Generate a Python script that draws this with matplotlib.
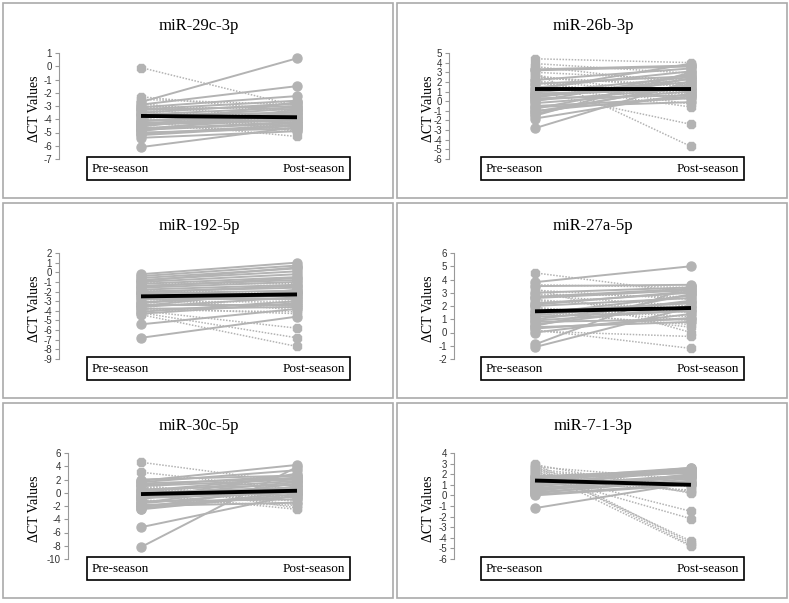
#!/usr/bin/env python3
"""Six paired pre/post-season dCT panels (grey per-subject lines, black mean)."""
import matplotlib.pyplot as plt
from matplotlib.patches import Rectangle

plt.rcParams["axes.unicode_minus"] = False

W, H = 789, 603
GREY = "#b3b3b3"
SERIF = "Liberation Serif"
SANS = "Liberation Sans"

titles = ["miR-29c-3p", "miR-26b-3p", "miR-192-5p",
          "miR-27a-5p", "miR-30c-5p", "miR-7-1-3p"]
ylims = [(-7, 1), (-6, 5), (-9, 2), (-2, 6), (-10, 6), (-6, 4)]
ysteps = [1, 1, 1, 1, 2, 1]

# per-subject values
pre1 = [-0.1, -2.3, -2.5, -2.7, -2.8, -2.9, -3.0, -3.1, -3.2, -3.3, -3.4, -3.5, -3.6, -3.7, -3.8,
        -3.9, -4.0, -4.1, -4.2, -4.3, -4.4, -4.5, -4.6, -4.7, -4.8, -4.9, -5.0, -5.2, -5.4, -6.1,
        -3.05, -3.25, -3.45, -3.65, -3.95, -4.15, -4.35, -4.55, -4.75, -5.1]
post1 = [-3.0, -3.4, -2.9, 0.6, -4.2, -1.5, -3.3, -2.25, -4.4, -3.0, -4.6, -2.8, -4.9, -3.5, -4.0,
         -3.2, -4.5, -3.6, -5.3, -3.8, -4.1, -2.7, -4.8, -3.9, -4.3, -3.4, -4.7, -4.5, -4.9, -4.6,
         -3.9, -2.6, -4.3, -3.1, -4.6, -3.7, -4.0, -3.3, -4.2, -4.4]
pre2 = [4.4, 3.9, 3.6, 3.3, 3.0, 2.7, 2.5, 2.2, 2.0, 1.8, 1.5, 1.2, 1.0, 0.8, 0.5, 0.3, 0.0,
        -0.2, -0.5, -0.8, -1.0, -1.3, -1.5, -1.8, -2.8, 2.9, 1.6, 0.6,
        2.4, 1.9, 1.4, 0.9, 0.1, -0.6, -1.1, 3.2, 2.1, 0.4]
post2 = [4.0, 2.9, 1.8, 3.7, 2.2, 0.4, 1.5, 3.4, -0.3, 2.6, 0.9, 3.9, -2.4, 1.2, 2.0, 0.6, 2.8,
         1.0, 0.3, 2.4, 0.5, 1.8, 3.0, 0.8, 2.1, -4.7, -0.6, 1.4,
         1.7, 0.2, 3.1, 2.5, 1.3, -0.1, 1.6, 3.6, 0.7, 2.3]
pre3 = [-0.2, -0.4, -0.6, -0.8, -1.0, -1.2, -1.4, -1.6, -1.8, -2.0, -2.2, -2.4, -2.6, -2.8, -3.0,
        -3.2, -3.4, -3.6, -3.8, -4.0, -4.2, -4.4, -3.9, -4.1, -5.4, -6.8, -1.9, -3.3,
        -0.9, -1.5, -2.1, -2.7, -3.1, -3.5, -3.7, -4.3, -2.5, -1.1]
post3 = [1.0, 0.7, 0.4, 0.1, -0.2, -0.5, -0.8, -1.0, -1.3, -1.6, -1.9, -2.2, -2.5, -2.8, -3.1,
         -2.0, -3.4, -2.6, -3.6, -5.8, -6.8, -7.7, -4.1, -3.0, -3.8, -4.6, -2.1, -3.5,
         0.5, -0.6, -1.4, -3.9, -2.3, -1.8, -4.3, -3.2, -2.9, -1.2]
pre4 = [4.5, 3.8, 3.5, 3.2, 3.0, 2.8, 2.6, 2.4, 2.2, 2.0, 1.8, 1.6, 1.4, 1.2, 1.0, 0.8, 0.6,
        0.4, 0.2, 0.0, -0.9, -1.1, 3.3, 2.7, 1.5, 0.3,
        2.9, 2.5, 2.1, 1.7, 1.3, 0.9, 0.5, 0.1, 3.6, 1.9]
post4 = [3.0, 5.0, 3.6, 2.5, 3.4, 2.0, 3.2, 1.8, 3.0, 2.6, 1.2, 2.2, 2.8, 1.6, 2.4, 1.0, 2.0,
         0.8, -1.2, 1.4, 3.5, 1.9, 0.0, 3.3, 0.6, 1.1,
         2.7, 1.5, 3.1, 0.4, 2.3, 1.7, 2.9, -0.3, 3.4, 0.9]
pre5 = [4.6, 3.1, 2.0, 1.6, 1.3, 1.0, 0.8, 0.5, 0.3, 0.0, -0.2, -0.5, -0.8, -1.0, -1.3, -1.6,
        -1.9, -2.2, -2.5, -5.2, -8.2, 1.8, 0.6, -0.3, -2.0, 1.1,
        0.9, 0.2, -0.6, -1.1, -1.5, -2.4, 1.4, -0.1]
post5 = [1.5, 0.5, 2.6, 3.4, -2.3, 2.0, -1.8, 1.2, 2.3, 0.8, -2.5, 1.6, 0.0, 2.9, -1.0, 0.4,
         -0.6, 1.0, -0.2, -0.3, 3.9, 4.2, -1.3, 0.6, -1.5, 2.6,
         -0.8, 1.8, 0.3, -1.9, 1.4, 0.1, 2.2, -0.5]
pre6 = [3.0, 2.8, 2.6, 2.4, 2.2, 2.0, 1.8, 1.6, 1.4, 1.2, 1.0, 0.8, 0.6, 0.4, 0.2, 0.0, -1.2,
        2.9, 2.7, 2.5, 1.5, 0.9, 0.3, 1.9,
        2.3, 1.7, 1.1, 0.7, 0.1, 2.1, 1.3, 0.5]
post6 = [-4.5, -4.7, -4.3, -4.8, -1.5, -2.2, 2.4, 2.6, 0.5, 2.2, 1.8, 2.5, 1.2, 2.0, 1.6, 1.0,
         1.2, 0.2, 1.5, 0.8, 2.3, 1.9, 1.4, 0.4,
         0.9, 2.1, 2.4, 1.7, 1.1, 0.3, 2.6, 1.8]
pres = [pre1, pre2, pre3, pre4, pre5, pre6]
posts = [post1, post2, post3, post4, post5, post6]

mean_pre = [-3.75, 1.25, -2.5, 1.6, -0.2, 1.4]
mean_post = [-3.85, 1.25, -2.3, 1.85, 0.3, 1.0]

# layout (pixels): panel corners and the per-panel y-axis offset
origins = [(3, 3), (397, 3), (3, 203), (397, 203), (3, 403), (397, 403)]
axis_x = [56, 52, 56, 57, 65, 57]
PW, PH = 390, 195
TOP, BOT = 50, 156          # y-axis extent inside a panel
X_PRE, X_POST, X_END = 138, 294, 347

fig = plt.figure(figsize=(W / 100, H / 100), dpi=100)


def fx(px):
    return px / W


def fy(py):
    return 1 - py / H


for i in range(6):
    x0, y0 = origins[i]
    fig.add_artist(Rectangle((fx(x0), fy(y0 + PH)), fx(PW), PH / H,
                             transform=fig.transFigure, fill=False,
                             ec="#aaaaaa", lw=1.2))
    fig.text(fx(x0 + 196), fy(y0 + 23), titles[i], ha="center", va="center",
             family=SERIF, fontsize=12)
    fig.text(fx(x0 + 31), fy(y0 + 106), "ΔCT Values", rotation=90,
             ha="center", va="center", family=SERIF, fontsize=10)

    ax_l = axis_x[i]
    ax = fig.add_axes([fx(x0 + ax_l), fy(y0 + BOT), fx(X_END - ax_l), (BOT - TOP) / H])
    ax.patch.set_alpha(0)
    scale = X_POST - X_PRE
    ax.set_xlim(1 - (X_PRE - ax_l) / scale, 2 + (X_END - X_POST) / scale)
    lo, hi = ylims[i]
    ax.set_ylim(lo, hi)
    ax.set_yticks(range(lo, hi + 1, ysteps[i]))
    ax.set_xticks([])
    for s in ("top", "right", "bottom"):
        ax.spines[s].set_visible(False)
    ax.spines["left"].set_color("#999999")
    ax.spines["left"].set_linewidth(0.8)
    ax.tick_params(axis="y", length=3, width=0.8, color="#999999", pad=2,
                   labelsize=7, labelcolor="#333333")
    for lab in ax.get_yticklabels():
        lab.set_family(SANS)

    for p, q in zip(pres[i], posts[i]):
        if q >= p:
            ax.plot([1, 2], [p, q], color=GREY, lw=1.4, ls="-", marker="o", ms=6.5,
                    mfc=GREY, mec=GREY, clip_on=False, zorder=3)
        else:
            ax.plot([1, 2], [p, q], color=GREY, lw=1.1, ls=(0, (1, 1)), marker="8",
                    ms=6, mfc=GREY, mec=GREY, clip_on=False, zorder=2)
    ax.plot([1, 2], [mean_pre[i], mean_post[i]], color="black", lw=2.8,
            solid_capstyle="butt", zorder=5)

    # category box under each panel
    bx0, bx1, by0, by1 = X_PRE - 54, X_END, 154, 177
    fig.add_artist(Rectangle((fx(x0 + bx0), fy(y0 + by1)), fx(bx1 - bx0), (by1 - by0) / H,
                             transform=fig.transFigure, fill=False, ec="black", lw=1.2))
    fig.text(fx(x0 + bx0 + 5), fy(y0 + 166), "Pre-season", ha="left", va="center",
             family=SERIF, fontsize=9.5)
    fig.text(fx(x0 + bx1 - 5), fy(y0 + 166), "Post-season", ha="right", va="center",
             family=SERIF, fontsize=9.5)

fig.savefig("out.png", dpi=100)
